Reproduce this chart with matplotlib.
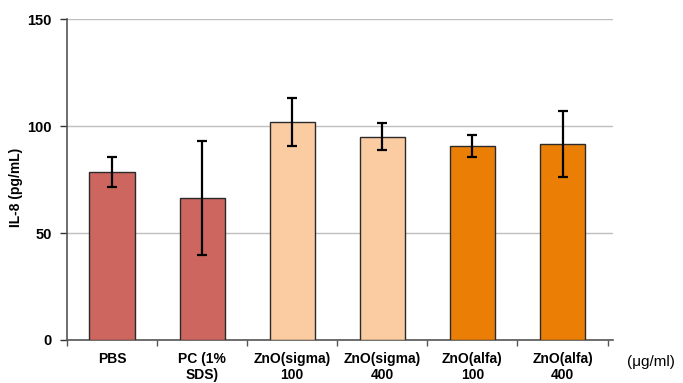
import matplotlib
matplotlib.use("Agg")
import matplotlib.pyplot as plt
import numpy as np

plt.rcParams['font.family'] = ['Liberation Sans', 'DejaVu Sans']

categories = ["PBS", "PC (1%\nSDS)", "ZnO(sigma)\n100", "ZnO(sigma)\n400", "ZnO(alfa)\n100", "ZnO(alfa)\n400"]
values = [78.5, 66.3, 101.9, 95.0, 90.7, 91.8]
errors = [7.0, 26.6, 11.3, 6.4, 5.0, 15.4]
colors = ["#CD665F", "#CD665F", "#FBCBA1", "#FBCBA1", "#EB7F06", "#EB7F06"]
yticks = [0, 50, 100, 150]

fig = plt.figure(figsize=(6.83, 3.83), dpi=100)
ax = fig.add_axes([0.098, 0.1123, 0.7995, 0.8377])

x = np.arange(len(categories))
ax.bar(x, values, width=0.5, color=colors, edgecolor="#2a2a2a", linewidth=1.0, zorder=3)
ax.errorbar(x, values, yerr=errors, fmt='none', ecolor='black', elinewidth=1.6,
            capsize=3.5, capthick=1.6, zorder=4)

ax.set_ylim(0, 150)
ax.set_xlim(-0.5, 5.56)
ax.set_yticks(yticks)
ax.set_yticklabels([str(t) for t in yticks], fontweight='bold', fontsize=10.5)
ax.yaxis.grid(True, color="#BEBEBE", linewidth=1.0, zorder=0)
ax.set_axisbelow(True)

ax.set_xticks(x)
ax.set_xticklabels(categories, fontweight='bold', fontsize=10, linespacing=1.15)
ax.tick_params(axis='x', which='major', length=0, pad=9)
ax.set_xticks(np.arange(-0.5, 6.0, 1.0), minor=True)
ax.tick_params(axis='x', which='minor', length=4, width=1.0, color="#555555", direction='out')
ax.tick_params(axis='y', length=5, width=1.0, color="#333333", direction='out', pad=6)

for s in ['top', 'right']:
    ax.spines[s].set_visible(False)
ax.spines['left'].set_color("#555555")
ax.spines['left'].set_linewidth(1.2)
ax.spines['bottom'].set_color("#555555")
ax.spines['bottom'].set_linewidth(1.2)

ax.set_ylabel("IL-8 (pg/mL)", fontweight='bold', fontsize=10)
ax.yaxis.set_label_coords(-0.081, 0.477)

fig.text(0.918, 0.055, "(μg/ml)", fontsize=11, ha='left', va='center')

fig.savefig("out.png", dpi=100)
